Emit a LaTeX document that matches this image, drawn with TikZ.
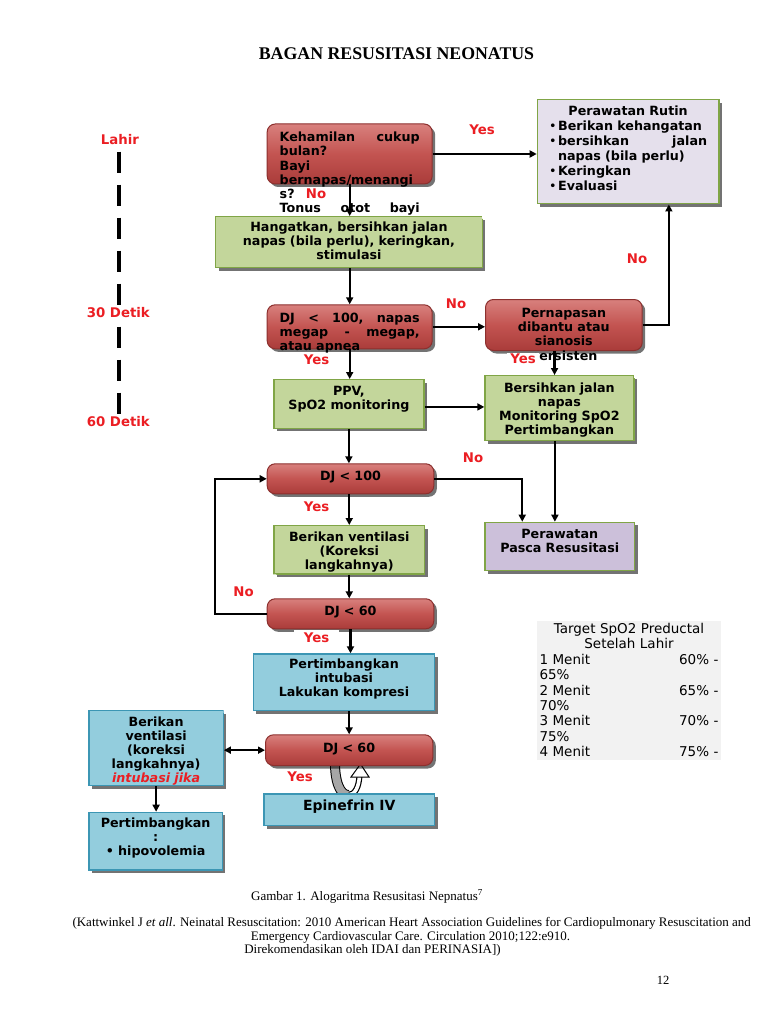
\documentclass[tikz,border=0pt]{standalone}
\usepackage{fontspec}
\setmainfont{Liberation Serif}
\newfontfamily\dvs{DejaVu Sans}
\usetikzlibrary{shadows,arrows.meta,calc}
\definecolor{redA}{RGB}{216,128,125}
\definecolor{redB}{RGB}{195,84,81}
\definecolor{redC}{RGB}{170,60,58}
\definecolor{redD}{RGB}{140,48,46}
\definecolor{grnF}{RGB}{195,214,155}
\definecolor{grnD}{RGB}{128,165,70}
\definecolor{lavF}{RGB}{229,224,236}
\definecolor{lavG}{RGB}{204,192,218}
\definecolor{bluF}{RGB}{147,205,221}
\definecolor{bluD}{RGB}{60,150,180}
\definecolor{lblred}{RGB}{235,30,35}
\definecolor{tblgray}{RGB}{242,242,242}
\newcommand\bxf{\dvs\bfseries\fontsize{12.7}{14}\selectfont\hyphenpenalty=10000\exhyphenpenalty=10000}
\newcommand\rdf{\dvs\bfseries\fontsize{12.7}{14.3}\selectfont\hyphenpenalty=10000\exhyphenpenalty=10000}
\newcommand\rtf{\dvs\bfseries\fontsize{12.7}{15}\selectfont\hyphenpenalty=10000\exhyphenpenalty=10000}
\newcommand\epf{\dvs\bfseries\fontsize{14}{16}\selectfont}
\newcommand\lbf{\dvs\bfseries\fontsize{13.3}{15}\selectfont}
\newcommand\tbf{\dvs\fontsize{13.5}{15.4}\selectfont\hyphenpenalty=10000}
\newcommand\cpf{\fontsize{13}{13.5}\selectfont}
\newcommand\myclip[4]{\clip (#1-1,#2-1) -- (#3+1,#2-1) -- (#3+1,#2+3) -- (#3+4.5,#2+3) -- (#3+4.5,#4+4.5) -- (#1+3,#4+4.5) -- (#1+3,#4+1) -- (#1-1,#4+1) -- cycle;}
\newcommand\bul{\makebox[9pt][l]{\mdseries\textbullet}}
\begin{document}
\begin{tikzpicture}[x=1pt,y=-1pt,
  shbox/.style={anchor=north west, inner ysep=0pt,
    drop shadow={shadow xshift=3pt,shadow yshift=-3pt,fill=black,opacity=0.55}},
  dims/.style n args={4}{text width=#1pt, inner xsep=#2pt, text height=#3pt, text depth=#4pt},
  redbox/.style={shbox, font=\rdf, rounded corners=8pt, draw=redD, line width=1pt,
    top color=redA, bottom color=redC, middle color=redB},
  grnbox/.style={shbox, font=\bxf, draw=grnD, line width=1.2pt, fill=grnF, align=center},
  lavbox/.style={shbox, font=\bxf, draw=grnD, line width=1.2pt, fill=lavF},
  lavboxb/.style={shbox, font=\bxf, draw=grnD, line width=1.2pt, fill=lavG, align=center},
  blubox/.style={shbox, font=\bxf, draw=bluD, line width=1.2pt, fill=bluF, align=center},
  lbl/.style={font=\lbf, text=lblred, inner sep=1pt},
  lblw/.style={lbl, fill=white, inner xsep=10pt, inner ysep=3pt},
  conn/.style={line width=2.2pt, -{Triangle[length=7pt,width=7pt]}},
  dconn/.style={line width=2.2pt, {Triangle[length=7pt,width=7pt]}-{Triangle[length=7pt,width=7pt]}},
  tdash/.style={line width=3.3pt, dash pattern=on 21pt off 12pt},
  capt/.style={font=\cpf, anchor=base, inner sep=0pt}
]
\fill[white] (0,0) rectangle (768,1024);
\useasboundingbox (0,0) rectangle (768,1024);

% title
\node[font=\bfseries\fontsize{17.8}{20}\selectfont, anchor=base, inner sep=0pt] (title) at (396.5,60) {BAGAN RESUSITASI NEONATUS};

% timeline
\node[lbl] (lahir) at (120,139.3) {Lahir};
\node[lbl] (t30) at (118.3,312.7) {30 Detik};
\node[lbl] (t60) at (118.3,421.7) {60 Detik};
\coordinate (tA) at (119,151.7);
\coordinate (tB) at (119,305);
\coordinate (tC) at (119,326.7);
\coordinate (tD) at (119,415);
\draw[tdash] (tA) -- (tB);
\draw[tdash] (tC) -- (tD);

% boxes
\node[redbox, dims={140}{12.5}{17.5}{42.5}, align=left] (q1) at (266.7,123.5)
  {Kehamilan\hfill cukup\\bulan?\\Bayi\\bernapas/menangi\\s?\\Tonus\hfill otot\hfill bayi};
\node[lavbox, dims={158}{11.8}{15.7}{88.3}, align=left, font=\rtf] (rutin) at (536.7,99.3)
  {\makebox[158pt]{Perawatan Rutin}\\\bul Berikan kehangatan\\\bul bersihkan\hfill jalan\\\hspace*{9pt}napas (bila perlu)\\\bul Keringkan\\\bul Evaluasi};
\begin{scope}
\myclip{215}{216}{481.7}{267}
\node[grnbox, dims={250}{8.35}{14.5}{36.5}] (hang) at (215,216)
  {Hangatkan, bersihkan jalan\\napas (bila perlu), keringkan,\\stimulasi};
\end{scope}
\node[redbox, dims={140}{12.5}{17.2}{26.8}, align=left] (dj1) at (266.7,304.3)
  {DJ\hfill <\hfill 100,\hfill napas\\megap\hfill -\hfill megap,\\atau apnea};
\node[redbox, dims={140}{8.35}{17.7}{33.3}, align=center] (pern) at (485,299)
  {Pernapasan\\dibantu atau\\sianosis\\persisten};
\node[grnbox, dims={140}{5}{16}{32.7}] (ppv) at (273.3,379)
  {PPV,\\SpO2 monitoring};
\begin{scope}
\myclip{484.3}{375}{633.3}{440}
\node[grnbox, dims={139}{5}{16.7}{48.3}] (bers) at (484.3,375)
  {Bersihkan jalan\\napas\\Monitoring SpO2\\Pertimbangkan};
\end{scope}
\node[redbox, dims={150}{8.3}{16.7}{13.3}, align=center] (dj2) at (266.7,463.3) {DJ < 100};
\node[lavboxb, dims={140}{4.85}{16}{32.3}] (pasca) at (484.3,521.7)
  {Perawatan\\Pasca Resusitasi};
\begin{scope}
\myclip{273.3}{525}{424}{573.3}
\node[grnbox, dims={140}{5.35}{16}{32.3}] (vent) at (273.3,525)
  {Berikan ventilasi\\(Koreksi\\langkahnya)};
\end{scope}
\node[redbox, dims={150}{8.3}{16.7}{13.3}, align=center] (dj3) at (266.7,598.3) {DJ < 60};
\node[blubox, dims={170}{5.65}{14.7}{42}] (intub) at (252.7,653.3)
  {Pertimbangkan\\intubasi\\Lakukan kompresi};

% circular arrow between DJ<60 and Epinefrin
\draw[line width=10pt, black] (335,760) .. controls (334.5,781) and (340,795) .. (348,795);
\draw[line width=6pt, black] (348,795) .. controls (355,795) and (359,787) .. (359.5,775);
\draw[line width=8pt, black!35] (335,760) .. controls (334.5,781) and (340,795) .. (348,795);
\draw[line width=3.6pt, white] (348,795) .. controls (355,795) and (359,787) .. (359.5,775);
\filldraw[fill=white, draw=black, line width=1pt] (351,777) -- (360.5,764) -- (369,777) -- cycle;

\node[redbox, dims={150}{8.65}{17.4}{13.3}, align=center] (dj4) at (265,734.3) {DJ < 60};
\node[blubox, dims={160}{5.35}{16.7}{15}, font=\epf] (epi) at (263.3,793.3) {Epinefrin IV};
\begin{scope}
\myclip{88.3}{710}{222.7}{785}
\node[blubox, dims={126}{4.2}{16}{59}] (berik) at (88.3,710)
  {Berikan\\ventilasi\\(koreksi\\langkahnya)\\{\color{lblred}\itshape intubasi jika}};
\end{scope}
\node[blubox, dims={126}{3.7}{15}{42.6}] (pert) at (88.3,811.7)
  {Pertimbangkan\\:\\\textbullet\ hipovolemia};

% SpO2 table
\node[anchor=north west, fill=tblgray, font=\tbf, align=left, inner ysep=0pt,
      dims={179}{2.3}{12.3}{126.7}] (tbl) at (537,621)
  {\makebox[179pt]{Target SpO2 Preductal}\\\makebox[179pt]{Setelah Lahir}\\
   1 Menit\hfill 60\% -\\65\%\\2 Menit\hfill 65\% -\\70\%\\3 Menit\hfill 70\% -\\75\%\\4 Menit\hfill 75\% -};

% connectors
\coordinate (cR) at ($(rutin.south west)!0.723!(rutin.south east)$);
\coordinate (lp) at (215,0);
\draw[conn] (q1.east) -- (q1.east -| rutin.west);
\draw[conn] (q1.south) -- (q1.south |- hang.north);
\draw[conn] (dj1.north |- hang.south) -- (dj1.north);
\draw[conn] (dj1.east) -- (dj1.east -| pern.west);
\draw[conn] (pern.east) -| (cR);
\draw[conn] (dj1.south) -- (dj1.south |- ppv.north);
\draw[conn] ([xshift=-9.3pt]pern.south) -- ([xshift=-9.3pt]pern.south |- bers.north);
\draw[conn] ([yshift=-3pt]ppv.east) -- ([yshift=-3pt]ppv.east -| bers.west);
\draw[conn] (ppv.south) -- (ppv.south |- dj2.north);
\draw[conn] (dj2.east) -| ([xshift=-37.5pt]pasca.north);
\draw[conn] ([xshift=-4.5pt]bers.south) -- ([xshift=-4.5pt]bers.south |- pasca.north);
\draw[conn] (vent.north |- dj2.south) -- (vent.north);
\draw[conn] (vent.south) -- (vent.south |- dj3.north);
\draw[conn] (dj3.west) -- (dj3.west -| lp) |- (dj2.west);
\draw[conn] (dj3.south) -- (dj3.south |- intub.north);
\draw[conn] (dj4.north |- intub.south) -- (dj4.north);
\draw[dconn] (dj4.west) -- (dj4.west -| berik.east);
\draw[conn] (berik.south) -- (berik.south |- pert.north);

% labels
\node[lbl] (y1) at (482,130) {Yes};
\node[lbl] (n1) at (316,194) {No};
\node[lbl] (n2) at (637,259) {No};
\node[lbl] (n3) at (456,303.5) {No};
\node[lbl] (y2) at (316.5,360) {Yes};
\node[lblw, inner xsep=3pt, inner ysep=1pt] (y3) at (523,359) {Yes};
\node[lbl] (n4) at (473,458) {No};
\node[lbl] (y4) at (316.5,506.5) {Yes};
\node[lbl] (n5) at (243.5,592) {No};
\node[lblw] (y5) at (316.5,638) {Yes};
\node[lbl] (y6) at (300,777) {Yes};

% caption
\node[capt] (cap1) at (367,900) {Gambar 1. Alogaritma Resusitasi Nepnatus\textsuperscript{7}};
\node[capt] (cap2) at (411.7,926.5) {(Kattwinkel J \textit{et all}. Neinatal Resuscitation: 2010 American Heart Association Guidelines for Cardiopulmonary Resuscitation and};
\node[capt] (cap3) at (410.5,940) {Emergency Cardiovascular Care. Circulation 2010;122:e910.};
\node[capt] (cap4) at (372.5,953.5) {Direkomendasikan oleh IDAI dan PERINASIA])};
\node[capt, font=\fontsize{12.5}{14}\selectfont] (pg) at (663,984) {12};
\end{tikzpicture}
\end{document}
